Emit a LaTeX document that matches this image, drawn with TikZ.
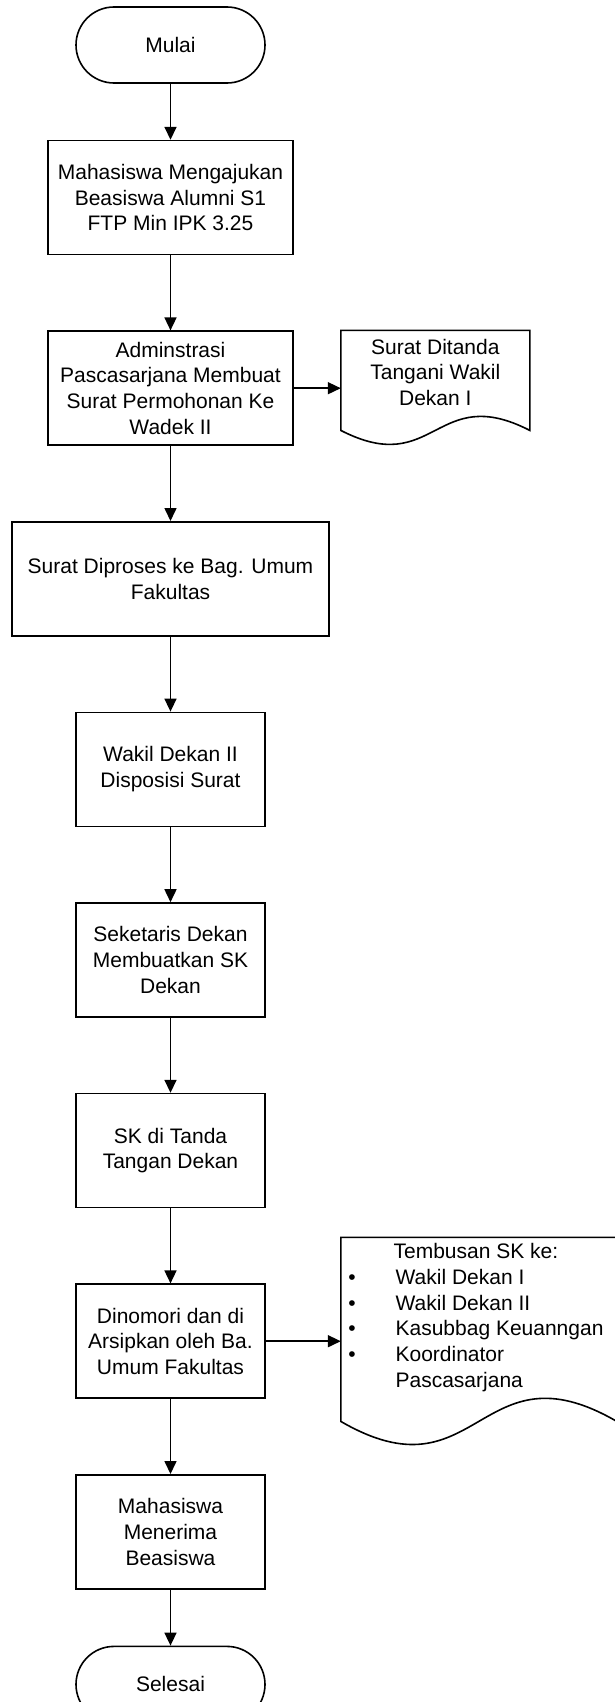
\documentclass[tikz,border=0pt]{standalone}
\usepackage{fontspec}
\setmainfont{Liberation Sans}
\usetikzlibrary{positioning,arrows.meta}

\begin{document}
\begin{tikzpicture}[
	x=1pt,y=-1pt,
	node distance=75pt,
	line width=1.6pt,
	font=\fontsize{21}{25.7}\selectfont,
	>={Triangle[length=13pt,width=12pt]},
	terminal/.style={draw,rounded corners=38pt,minimum width=189pt,minimum height=76pt,inner sep=0pt},
	process/.style={draw,rectangle,align=center,minimum width=189pt,minimum height=114pt,inner sep=0pt},
	docnode/.style={rectangle,align=center,inner sep=0pt,outer sep=0pt}
	]
	\fill[white] (0,0) rectangle (614,1702);
	\useasboundingbox (0,0) rectangle (614,1702);
	\node[terminal] (mulai) at (170.5,45) {Mulai};
	\node[process,minimum width=245pt,below=56pt of mulai] (mengajukan) {Mahasiswa Mengajukan\\Beasiswa Alumni S1\\FTP Min IPK 3.25};
	\node[process,minimum width=245pt,below=of mengajukan] (adminstrasi) {Adminstrasi\\Pascasarjana Membuat\\Surat Permohonan Ke\\Wadek II};
	\node[docnode,minimum width=189pt,minimum height=84pt,right=47pt of adminstrasi.north east,anchor=north west] (ditanda) {Surat Ditanda\\Tangani Wakil\\Dekan I};
	\node[process,minimum width=316.5pt,below=of adminstrasi] (diproses) {Surat Diproses ke Bag. Umum\\Fakultas};
	\node[process,below=of diproses] (disposisi) {Wakil Dekan II\\Disposisi Surat};
	\node[process,below=of disposisi] (membuatsk) {Seketaris Dekan\\Membuatkan SK\\Dekan};
	\node[process,below=of membuatsk] (tandatangan) {SK di Tanda\\Tangan Dekan};
	\node[process,below=of tandatangan] (dinomori) {Dinomori dan di\\Arsipkan oleh Ba.\\Umum Fakultas};
	\node[docnode,minimum width=276pt,minimum height=161pt,right=75pt of dinomori.north east,anchor=north west,yshift=46pt] (tembusan)
	{
		\begin{tabular}{@{}l@{\hspace{40pt}}l@{}}
			\multicolumn{2}{c}{Tembusan SK ke:} \\
			\textbullet & Wakil Dekan I \\
			\textbullet & Wakil Dekan II \\
			\textbullet & Kasubbag Keuanngan \\
			\textbullet & Koordinator \\
			& Pascasarjana \\
		\end{tabular}
	};
	\node[process,below=of dinomori] (menerima) {Mahasiswa\\Menerima\\Beasiswa};
	\node[terminal,below=56pt of menerima] (selesai) {Selesai};
	\draw (ditanda.north west) -- (ditanda.north east) -- ([yshift=-16pt]ditanda.south east)
	.. controls ([yshift=32.5pt]ditanda.south) and ([yshift=-64.5pt]ditanda.south) .. ([yshift=-16pt]ditanda.south west) -- cycle;
	\draw (tembusan.north west) -- (tembusan.north east) -- ([yshift=-23pt]tembusan.south east)
	.. controls ([yshift=57pt]tembusan.south) and ([yshift=-103pt]tembusan.south) .. ([yshift=-23pt]tembusan.south west) -- cycle;
	\path [->]
	(mulai) edge (mengajukan)
	(mengajukan) edge (adminstrasi)
	(adminstrasi.east) edge (adminstrasi.east -| ditanda.west)
	(adminstrasi) edge (diproses)
	(diproses) edge (disposisi)
	(disposisi) edge (membuatsk)
	(membuatsk) edge (tandatangan)
	(tandatangan) edge (dinomori)
	(dinomori.east) edge (dinomori.east -| tembusan.west)
	(dinomori) edge (menerima)
	(menerima) edge (selesai);
\end{tikzpicture}
\end{document}
